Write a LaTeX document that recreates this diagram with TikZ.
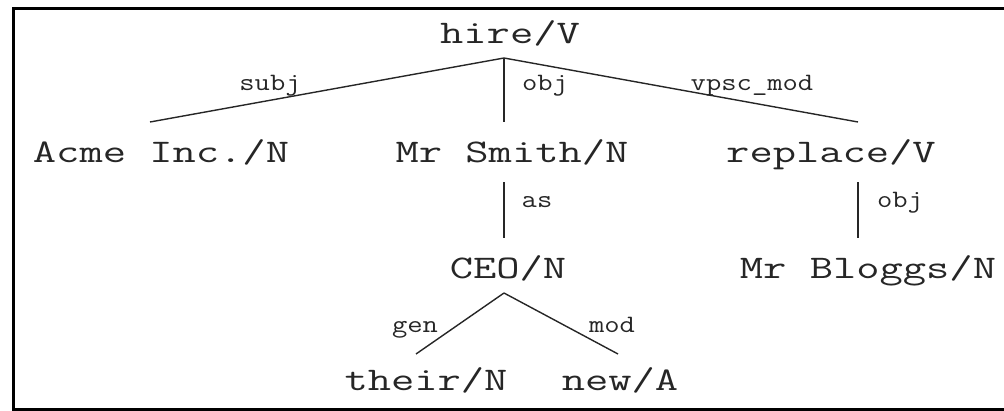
\documentclass[tikz,border=0pt]{standalone}
\usepackage{fontspec}
\newfontfamily\treemono[FakeStretch=1.37]{Latin Modern Mono}
\newfontfamily\relmono[FakeStretch=1.19]{Latin Modern Mono}
\newcommand\wordfont{\treemono\fontsize{33}{33}\selectfont}
\newcommand\relfont{\relmono\fontsize{25}{25}\selectfont}
\begin{document}
\begin{tikzpicture}[x=1pt,y=-1pt,
  word/.style={font=\wordfont, text=black!85, inner sep=0pt, anchor=base},
  rel/.style={font=\relfont, text=black!85, inner sep=0pt, anchor=base},
  dep/.style={line width=1.4pt, draw=black!85}]
  \useasboundingbox (0,0) rectangle (1004,410);
  \begin{scope}
    \clip (0,0) rectangle (1004,410);
    \draw[line width=3pt] (13,8.5) rectangle (1015,409.5);
  \end{scope}

  % words of the dependency tree
  \node[word] (hire)    at (510,43)  {hire/V};
  \node[word] (acme)    at (161,162) {Acme Inc./N};
  \node[word] (smith)   at (512,162) {Mr Smith/N};
  \node[word] (replace) at (831,162) {replace/V};
  \node[word] (ceo)     at (508,278) {CEO/N};
  \node[word] (bloggs)  at (868,278) {Mr Bloggs/N};
  \node[word] (their)   at (426,390) {their/N};
  \node[word] (new)     at (620,390) {new/A};

  % attachment points of the dependency arcs
  \coordinate (hire-foot)    at (504,58);
  \coordinate (acme-head)    at (150,122);
  \coordinate (smith-head)   at (504,122);
  \coordinate (replace-head) at (858,122);
  \coordinate (smith-foot)   at (504,182);
  \coordinate (ceo-head)     at (504,238);
  \coordinate (replace-foot) at (858,182);
  \coordinate (bloggs-head)  at (858,238);
  \coordinate (ceo-foot)     at (504,293);
  \coordinate (their-head)   at (416,354);
  \coordinate (new-head)     at (618,354);

  % dependency arcs
  \draw[dep] (hire-foot) -- (acme-head);
  \draw[dep] (hire-foot) -- (smith-head);
  \draw[dep] (hire-foot) -- (replace-head);
  \draw[dep] (smith-foot) -- (ceo-head);
  \draw[dep] (replace-foot) -- (bloggs-head);
  \draw[dep] (ceo-foot) -- (their-head);
  \draw[dep] (ceo-foot) -- (new-head);

  % relation labels
  \node[rel] (l-subj) at (270,90)  {subj};
  \node[rel] (l-obj)  at (545,90)  {obj};
  \node[rel] (l-vpsc) at (752,90)  {vpsc\_mod};
  \node[rel] (l-as)   at (537,207) {as};
  \node[rel] (l-obj2) at (900,207) {obj};
  \node[rel] (l-gen)  at (415,332) {gen};
  \node[rel] (l-mod)  at (612,332) {mod};
\end{tikzpicture}
\end{document}
